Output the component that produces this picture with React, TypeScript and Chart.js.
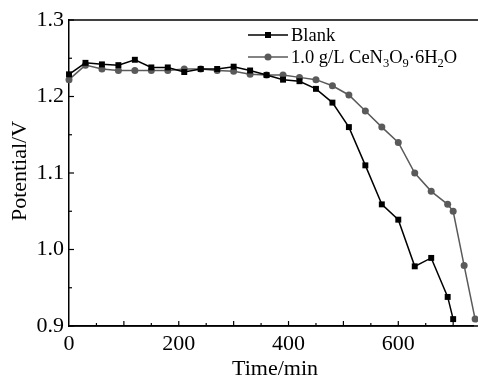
import React, { useEffect, useRef } from "react";
import { Chart, registerables } from "chart.js";

Chart.register(...registerables);

const timeMin = [0, 30, 60, 90, 120, 150, 180, 210, 240, 270, 300, 330, 360, 390, 420, 450, 480, 510, 540, 570, 600, 630, 660, 690, 700];
const blankV = [1.229, 1.244, 1.242, 1.241, 1.248, 1.238, 1.238, 1.232, 1.236, 1.236, 1.239, 1.234, 1.228, 1.222, 1.220, 1.210, 1.192, 1.160, 1.110, 1.059, 1.039, 0.978, 0.989, 0.938, 0.909];
const ceTime = [0, 30, 60, 90, 120, 150, 180, 210, 240, 270, 300, 330, 360, 390, 420, 450, 480, 510, 540, 570, 600, 630, 660, 690, 700, 720, 740];
const ceV = [1.222, 1.241, 1.236, 1.234, 1.234, 1.234, 1.234, 1.236, 1.236, 1.234, 1.233, 1.229, 1.228, 1.228, 1.225, 1.222, 1.214, 1.202, 1.181, 1.160, 1.140, 1.100, 1.076, 1.059, 1.050, 0.979, 0.909];
const xTicks = [0, 200, 400, 600];
const yTicks = [0.9, 1.0, 1.1, 1.2, 1.3];
const legendLabels = ["Blank", "1.0 g/L CeN3O9·6H2O"];

const FONT = "'Liberation Serif', 'Times New Roman', serif";
const GRAY = "#5a5a5a";

const customPlugin = {
  id: "custom",
  afterDraw(chart: any) {
    const ctx = chart.ctx;
    const { left, top, bottom } = chart.chartArea;
    const xs = chart.scales.x;
    const ys = chart.scales.y;
    ctx.save();
    ctx.strokeStyle = "#000";
    ctx.lineWidth = 1.5;
    ctx.beginPath();
    ctx.moveTo(left, top);
    ctx.lineTo(chart.width, top);
    ctx.stroke();
    ctx.beginPath();
    ctx.moveTo(left, bottom);
    ctx.lineTo(chart.width, bottom);
    ctx.stroke();
    ctx.lineWidth = 1.2;
    for (let v = 50; v <= 745; v += 50) {
      const px = xs.getPixelForValue(v);
      const len = v % 100 === 0 ? 5 : 3;
      ctx.beginPath();
      ctx.moveTo(px, bottom);
      ctx.lineTo(px, bottom - len);
      ctx.stroke();
    }
    for (let i = 0; i <= 8; i++) {
      const v = 0.9 + i * 0.05;
      const py = ys.getPixelForValue(v);
      const len = i % 2 === 0 ? 5 : 3;
      ctx.beginPath();
      ctx.moveTo(left, py);
      ctx.lineTo(left + len, py);
      ctx.stroke();
    }
    ctx.fillStyle = "#000";
    ctx.font = `22px ${FONT}`;
    ctx.textAlign = "center";
    ctx.textBaseline = "middle";
    ctx.fillText("Time/min", 275, 369);
    ctx.save();
    ctx.translate(20, 171);
    ctx.rotate(-Math.PI / 2);
    ctx.fillText("Potential/V", 0, 0);
    ctx.restore();

    const lx0 = 248, lx1 = 288, ly1 = 35, ly2 = 57;
    ctx.lineWidth = 1.6;
    ctx.strokeStyle = "#000";
    ctx.beginPath(); ctx.moveTo(lx0, ly1); ctx.lineTo(lx1, ly1); ctx.stroke();
    ctx.fillStyle = "#000";
    ctx.fillRect(268 - 3, ly1 - 3, 6, 6);
    ctx.strokeStyle = GRAY;
    ctx.beginPath(); ctx.moveTo(lx0, ly2); ctx.lineTo(lx1, ly2); ctx.stroke();
    ctx.fillStyle = GRAY;
    ctx.beginPath(); ctx.arc(268, ly2, 3.5, 0, Math.PI * 2); ctx.fill();

    ctx.fillStyle = "#000";
    ctx.textAlign = "left";
    ctx.textBaseline = "alphabetic";
    ctx.font = `18.5px ${FONT}`;
    ctx.fillText(legendLabels[0], 291, ly1 + 6);
    const label = legendLabels[1];
    let x = 291;
    const base = ly2 + 6;
    for (let i = 0; i < label.length; i++) {
      const ch = label[i];
      const isSub = /[0-9]/.test(ch) && i > 8 && /[A-Za-z]/.test(label[i - 1]);
      if (isSub) {
        ctx.font = `12.5px ${FONT}`;
        ctx.fillText(ch, x, base + 4);
        x += ctx.measureText(ch).width;
      } else {
        ctx.font = `18.5px ${FONT}`;
        ctx.fillText(ch, x, base);
        x += ctx.measureText(ch).width;
      }
    }
    ctx.restore();
  },
};

export default function App() {
  const ref = useRef<HTMLCanvasElement | null>(null);
  useEffect(() => {
    document.body.style.margin = "0";
    const canvas = ref.current!;
    const chart = new Chart(canvas, {
      type: "line",
      data: {
        datasets: [
          {
            label: legendLabels[0],
            data: timeMin.map((t, i) => ({ x: t, y: blankV[i] })),
            borderColor: "#000",
            backgroundColor: "#000",
            borderWidth: 1.5,
            pointStyle: "rect",
            pointRadius: 4.2,
            pointHoverRadius: 4.2,
            pointBorderWidth: 0,
            clip: false,
          } as any,
          {
            label: legendLabels[1],
            data: ceTime.map((t, i) => ({ x: t, y: ceV[i] })),
            borderColor: GRAY,
            backgroundColor: GRAY,
            borderWidth: 1.5,
            pointStyle: "circle",
            pointRadius: 3.5,
            pointHoverRadius: 3.5,
            pointBorderWidth: 0,
            clip: false,
          } as any,
        ],
      },
      options: {
        animation: false,
        responsive: false,
        devicePixelRatio: 1,
        layout: { padding: { top: 20, right: 0, left: 0, bottom: 0 } },
        plugins: { legend: { display: false }, tooltip: { enabled: false } },
        scales: {
          x: {
            type: "linear",
            min: 0,
            max: 737.6,
            afterBuildTicks: (s: any) => { s.ticks = xTicks.map((v) => ({ value: v })); },
            ticks: { color: "#000", font: { family: FONT, size: 22 }, padding: 5, maxRotation: 0 },
            grid: { display: false, drawTicks: false },
            border: { display: true, color: "#000", width: 1.5 },
            afterFit: (s: any) => { s.height = 61; },
          },
          y: {
            type: "linear",
            min: 0.9,
            max: 1.3,
            afterBuildTicks: (s: any) => { s.ticks = yTicks.map((v) => ({ value: v })); },
            ticks: {
              color: "#000",
              font: { family: FONT, size: 22 },
              padding: 5,
              callback: (v: any) => Number(v).toFixed(1),
            },
            grid: { display: false, drawTicks: false },
            border: { display: true, color: "#000", width: 1.5 },
            afterFit: (s: any) => { s.width = 69; },
          },
        },
      },
      plugins: [customPlugin],
    });
    return () => chart.destroy();
  }, []);
  return (
    <div style={{ position: "absolute", left: 0, top: 0, width: 478, height: 387, background: "#fff" }}>
      <canvas ref={ref} width={478} height={387} style={{ width: 478, height: 387 }} />
    </div>
  );
}
